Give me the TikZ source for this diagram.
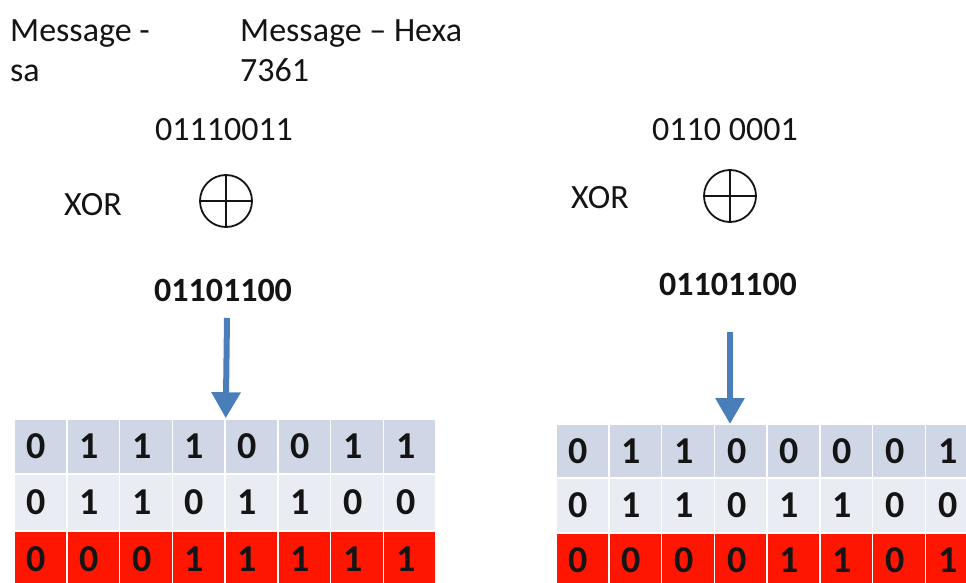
\documentclass[tikz,border=0pt]{standalone}
\usepackage{fontspec}
\setmainfont{Carlito}
\usetikzlibrary{arrows.meta}
\definecolor{rowA}{RGB}{207,215,230}
\definecolor{rowB}{RGB}{233,236,243}
\definecolor{rowC}{RGB}{255,22,0}
\definecolor{arrowblue}{RGB}{74,126,187}
\definecolor{ink}{RGB}{20,20,20}
% one row of bit cells: name prefix, left x, centre y, height, fill, bits
\newcommand{\bitrow}[6]{%
  \foreach \b [count=\c] in {#6} {
    \node[bitcell, minimum height=#4pt, fill=#5] (#1-\c) at ({#2+52.75*(\c-0.5)}, #3) {\b\hspace*{8pt}};
  }%
}
\begin{document}
\begin{tikzpicture}[x=1pt, y=-1pt,
  every node/.style={text=ink},
  label/.style={font=\fontsize{34}{34}\selectfont, inner sep=0pt},
  result/.style={font=\fontsize{34}{34}\selectfont\bfseries, inner sep=0pt},
  bitcell/.style={minimum width=52.75pt, inner sep=0pt, draw=white, line width=1.5pt,
                  font=\fontsize{38}{38}\selectfont\bfseries},
  xorsym/.style={circle, draw=ink, line width=1.8pt, minimum size=52pt, inner sep=0pt},
  flow/.style={draw=arrowblue, line width=6pt,
               -{Triangle[width=28pt, length=26pt]}}
]
\useasboundingbox (0,0) rectangle (966,583);
\fill[white] (0,0) rectangle (966,583);

% headings
\node[label, anchor=base west] (msg) at (10,42) {Message -};
\node[label, anchor=base west] (msgval) at (10,82) {sa};
\node[label, anchor=base west] (hex) at (240,42) {Message – Hexa};
\node[label, anchor=base west] (hexval) at (240,82) {7361};

% left XOR step
\node[label, anchor=base] (inL) at (224,141) {01110011};
\node[label, anchor=base] (xorL) at (93,215) {XOR};
\node[xorsym] (opL) at (226,201) {};
\draw[ink, line width=1.8pt] (opL.north) -- (opL.south) (opL.west) -- (opL.east);
\node[result, anchor=base] (keyL) at (223,301) {01101100};

% right XOR step
\node[label, anchor=base] (inR) at (725,140) {0110 0001};
\node[label, anchor=base] (xorR) at (600,208) {XOR};
\node[xorsym] (opR) at (730,196) {};
\draw[ink, line width=1.8pt] (opR.north) -- (opR.south) (opR.west) -- (opR.east);
\node[result, anchor=base] (keyR) at (728,295) {01101100};

% left table
\bitrow{L1}{14}{446.5}{55}{rowA}{0,1,1,1,0,0,1,1}
\bitrow{L2}{14}{502.5}{57}{rowB}{0,1,1,0,1,1,0,0}
\bitrow{L3}{14}{559.5}{57}{rowC}{0,0,0,1,1,1,1,1}

% right table
\bitrow{R1}{556}{451}{54}{rowA}{0,1,1,0,0,0,0,1}
\bitrow{R2}{556}{505.5}{55}{rowB}{0,1,1,0,1,1,0,0}
\bitrow{R3}{556}{560.5}{55}{rowC}{0,0,0,0,1,1,0,1}

% arrows from the results into the tables
\coordinate (startL) at (227,318);
\coordinate (startR) at (730,332);
\coordinate (endR) at (730,424);
\draw[flow] (startL) -- (L1-4.north east);
\draw[flow] (startR) -- (endR);
\end{tikzpicture}
\end{document}
